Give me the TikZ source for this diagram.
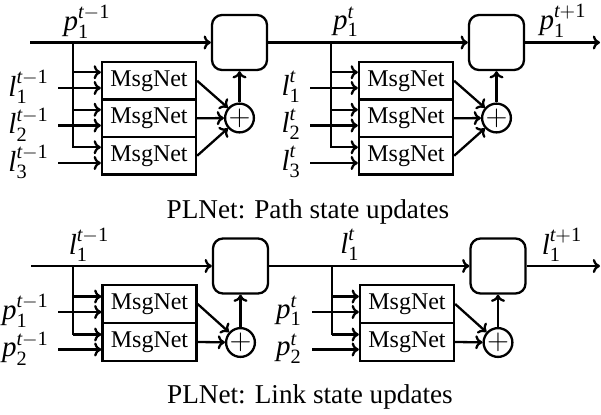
\documentclass[tikz,border=0pt]{standalone}
\usepackage{amsmath}
\usepackage{fontspec}
\setmainfont{Liberation Serif}
\usetikzlibrary{positioning,arrows.meta}
\newcommand{\vr}[3]{$\textit{#1}_{\text{#2}}^{\textit{t}#3}$}
\begin{document}
\begin{tikzpicture}[x=0.5pt,y=-0.5pt,line width=1.15pt,
  font=\fontsize{12}{14.4}\selectfont,
  >={To[length=3.6pt,width=7pt]},
  msg/.style={draw,minimum width=47pt,minimum height=18.75pt,inner sep=0pt},
  upd/.style={draw,rounded corners=5pt,minimum width=27.5pt,minimum height=27.5pt,inner sep=0pt},
  sumc/.style={draw,circle,minimum size=12.5pt,inner sep=0pt,font=\fontsize{15}{15}\selectfont},
  lbl/.style={inner sep=0pt,font=\fontsize{14.5}{16}\selectfont},
  captxt/.style={font=\fontsize{13.6}{16}\selectfont,anchor=base,inner sep=0pt},
  arr/.style={->}]
\useasboundingbox (0,0) rectangle (601,414);

% ===================== Top: path state updates =====================
\coordinate (ps) at (30,42.5);
\coordinate (pe) at (600,42.5);
\node[upd] (b1) at (239.5,42.5) {};
\node[upd] (b2) at (496.5,42.5) {};
\node[lbl] (lp0) at (87,22) {\vr{p}{1}{-\text{1}}};
\node[lbl] (lp1) at (346,22) {\vr{p}{1}{}};
\node[lbl] (lp2) at (563,21) {\vr{p}{1}{+\text{1}}};
\draw[arr] (ps) -- (b1.west);
\draw[arr] (b1.east) -- (b2.west);
\draw[arr] (b2.east) -- (pe);

% stage 1
\node[msg] (m11) at (149,80.75) {MsgNet};
\node[msg] (m12) at (149,118.25) {MsgNet};
\node[msg] (m13) at (149,155.75) {MsgNet};
\node[sumc] (s1) at (239.5,118) {$+$};
\coordinate (br1) at (73,42.5);
\coordinate (br1e) at (73,147.5);
\draw (br1) -- (br1e);
\foreach \m in {m11,m12,m13}{
  \coordinate (\m a) at ([yshift=4.25pt]\m.west);
  \draw[arr] (br1 |- \m a) -- (\m a);
}
\coordinate (i11) at (58,88);
\coordinate (i12) at (58,125.5);
\coordinate (i13) at (58,163);
\draw[arr] (i11) -- (m11.west |- i11);
\draw[arr] (i12) -- (m12.west |- i12);
\draw[arr] (i13) -- (m13.west |- i13);
\node[lbl,anchor=east] (la11) at (50,87) {\vr{l}{1}{-\text{1}}};
\node[lbl,anchor=east] (la12) at (50,124.5) {\vr{l}{2}{-\text{1}}};
\node[lbl,anchor=east] (la13) at (50,162) {\vr{l}{3}{-\text{1}}};
\draw[arr] (m11.east) -- (s1);
\draw[arr] (m12.east) -- (s1);
\draw[arr] (m13.east) -- (s1);
\draw[arr] (s1) -- (b1);

% stage 2
\node[msg] (m21) at (406,80.75) {MsgNet};
\node[msg] (m22) at (406,118.25) {MsgNet};
\node[msg] (m23) at (406,155.75) {MsgNet};
\node[sumc] (s2) at (496.5,118) {$+$};
\coordinate (br2) at (331,42.5);
\coordinate (br2e) at (331,147.5);
\draw (br2) -- (br2e);
\foreach \m in {m21,m22,m23}{
  \coordinate (\m a) at ([yshift=4.25pt]\m.west);
  \draw[arr] (br2 |- \m a) -- (\m a);
}
\coordinate (i21) at (310,88);
\coordinate (i22) at (310,125.5);
\coordinate (i23) at (310,163);
\draw[arr] (i21) -- (m21.west |- i21);
\draw[arr] (i22) -- (m22.west |- i22);
\draw[arr] (i23) -- (m23.west |- i23);
\node[lbl,anchor=east] (la21) at (302,87) {\vr{l}{1}{}};
\node[lbl,anchor=east] (la22) at (302,124.5) {\vr{l}{2}{}};
\node[lbl,anchor=east] (la23) at (302,162) {\vr{l}{3}{}};
\draw[arr] (m21.east) -- (s2);
\draw[arr] (m22.east) -- (s2);
\draw[arr] (m23.east) -- (s2);
\draw[arr] (s2) -- (b2);

\node[captxt] (c1) at (308,218) {PLNet: Path state updates};

% ===================== Bottom: link state updates =====================
\coordinate (ls) at (31,266);
\coordinate (le) at (600,266);
\node[upd] (b3) at (240.5,266) {};
\node[upd] (b4) at (498,266) {};
\node[lbl] (ll0) at (89,245) {\vr{l}{1}{-\text{1}}};
\node[lbl] (ll1) at (350,245) {\vr{l}{1}{}};
\node[lbl] (ll2) at (562,245) {\vr{l}{1}{+\text{1}}};
\draw[arr] (ls) -- (b3.west);
\draw[arr] (b3.east) -- (b4.west);
\draw[arr] (b4.east) -- (le);

% stage 1
\node[msg] (n11) at (149.5,304) {MsgNet};
\node[msg] (n12) at (149.5,342) {MsgNet};
\node[sumc] (t1) at (240.5,342.5) {$+$};
\coordinate (cr1) at (73,266);
\coordinate (cr1e) at (73,334.5);
\draw (cr1) -- (cr1e);
\foreach \m in {n11,n12}{
  \coordinate (\m a) at ([yshift=3.75pt]\m.west);
  \draw[arr] (cr1 |- \m a) -- (\m a);
}
\coordinate (j11) at (58,312);
\coordinate (j12) at (58,349.5);
\draw[arr] (j11) -- (n11.west |- j11);
\draw[arr] (j12) -- (n12.west |- j12);
\node[lbl,anchor=east] (lb11) at (50,311) {\vr{p}{1}{-\text{1}}};
\node[lbl,anchor=east] (lb12) at (50,348.5) {\vr{p}{2}{-\text{1}}};
\draw[arr] (n11.east) -- (t1);
\draw[arr] (n12.east) -- (t1);
\draw[arr] (t1) -- (b3);

% stage 2
\node[msg] (n21) at (407,304) {MsgNet};
\node[msg] (n22) at (407,342) {MsgNet};
\node[sumc] (t2) at (498,342.5) {$+$};
\coordinate (cr2) at (332,266);
\coordinate (cr2e) at (332,334.5);
\draw (cr2) -- (cr2e);
\foreach \m in {n21,n22}{
  \coordinate (\m a) at ([yshift=3.75pt]\m.west);
  \draw[arr] (cr2 |- \m a) -- (\m a);
}
\coordinate (j21) at (312,312);
\coordinate (j22) at (312,349.5);
\draw[arr] (j21) -- (n21.west |- j21);
\draw[arr] (j22) -- (n22.west |- j22);
\node[lbl,anchor=east] (lb21) at (303,311) {\vr{p}{1}{}};
\node[lbl,anchor=east] (lb22) at (303,348.5) {\vr{p}{2}{}};
\draw[arr] (n21.east) -- (t2);
\draw[arr] (n22.east) -- (t2);
\draw[arr] (t2) -- (b4);

\node[captxt] (c2) at (310,403) {PLNet: Link state updates};
\end{tikzpicture}
\end{document}
